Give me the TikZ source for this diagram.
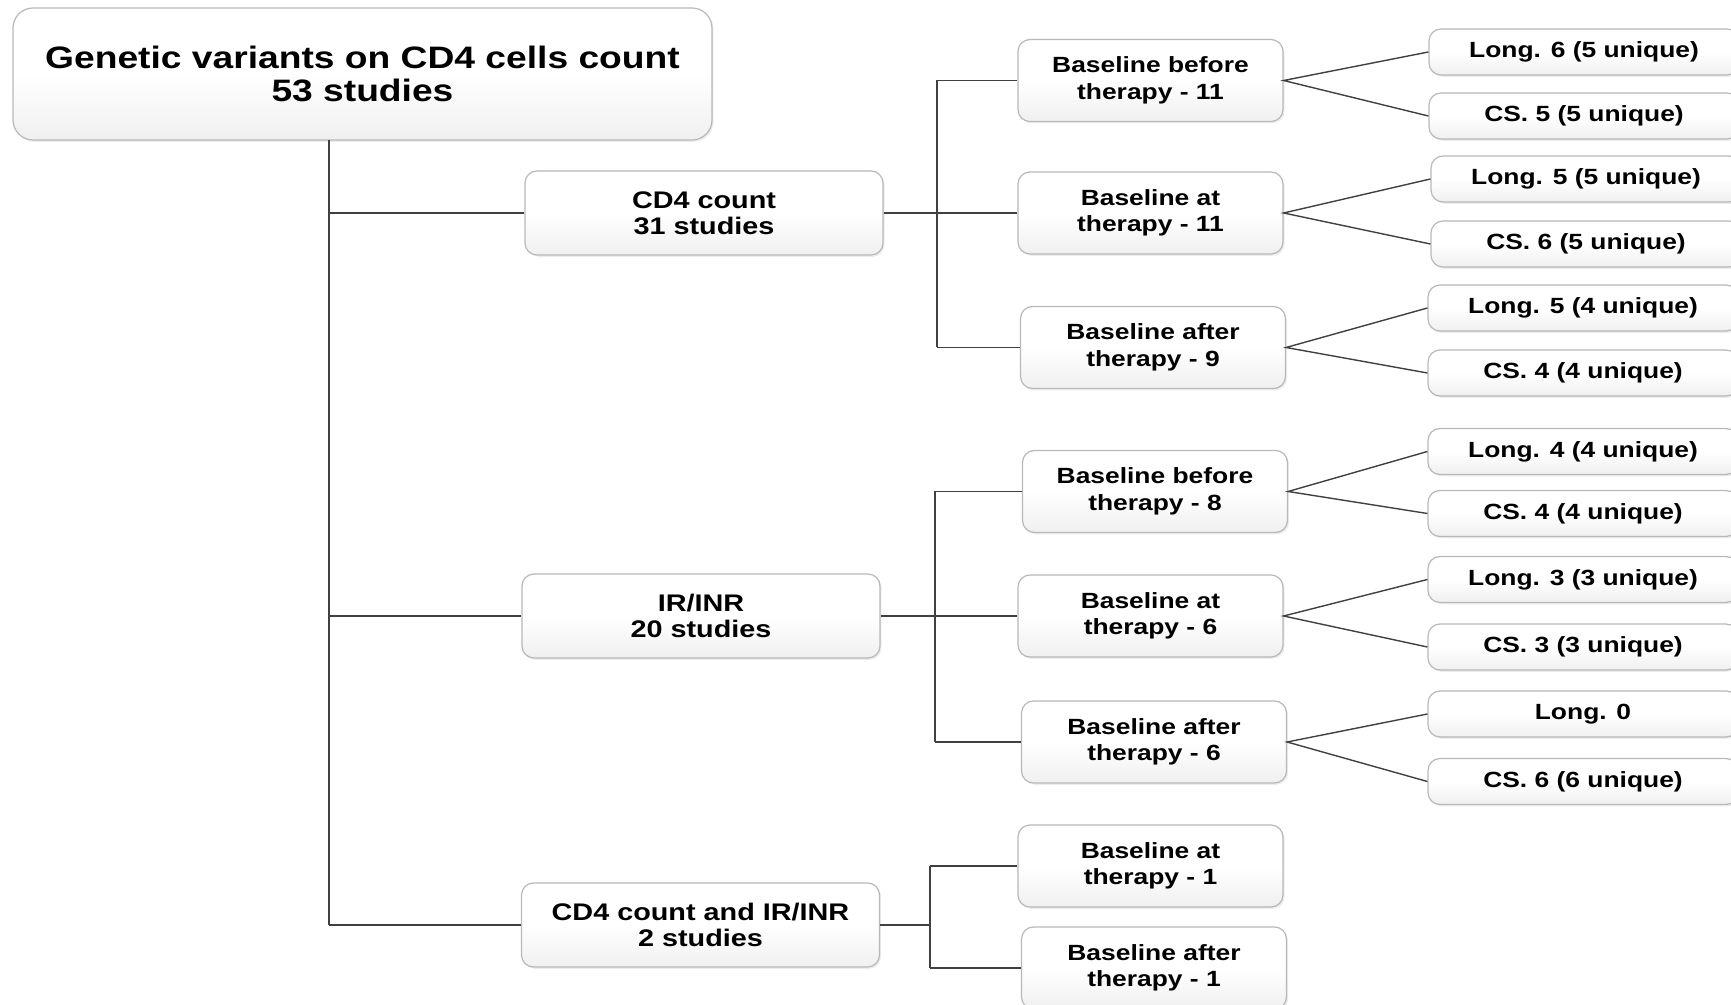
\documentclass[tikz,border=0pt]{standalone}
\usepackage{fontspec}
\newfontfamily\wf{Liberation Sans}[FakeStretch=1.2]
\usetikzlibrary{calc,shadows}
\begin{document}
\begin{tikzpicture}[x=0.5pt,y=-0.5pt,
  box/.style={draw=black!28, line width=0.6pt, rounded corners=6pt,
    top color=white, bottom color=black!6, middle color=white,
    drop shadow={opacity=0.15, shadow xshift=0.8pt, shadow yshift=-0.9pt},
    align=center, inner sep=0pt, text=black},
  rootbox/.style={box, rounded corners=10pt, minimum width=349.5pt, minimum height=66pt,
    font=\wf\bfseries\fontsize{15.5}{16.5}\selectfont},
  lvone/.style={box, minimum width=179pt, minimum height=42pt,
    font=\wf\bfseries\fontsize{12}{13.2}\selectfont},
  lvtwo/.style={box, minimum width=132.5pt, minimum height=41pt,
    font=\wf\bfseries\fontsize{11}{13.2}\selectfont},
  leaf/.style={box, minimum width=155pt, minimum height=23pt,
    font=\wf\bfseries\fontsize{11}{12}\selectfont},
  conn/.style={draw=black!75, line width=0.7pt}
]
\useasboundingbox (0,0) rectangle (1731,1005);

% root
\node[rootbox] (root) at (362.5,74) {Genetic variants on CD4 cells count\\53 studies};

% level one
\node[lvone] (A1) at (704,213) {CD4 count\\31 studies};
\node[lvone] (A2) at (701,616) {IR/INR\\20 studies};
\node[lvone] (A3) at (700.5,925) {CD4 count and IR/INR\\2 studies};

% level two
\node[lvtwo] (B1) at (1150.5,80.5) {Baseline before\\therapy - 11};
\node[lvtwo] (B2) at (1150.5,213) {Baseline at\\therapy - 11};
\node[lvtwo] (B3) at (1153,347.5) {Baseline after\\therapy - 9};
\node[lvtwo] (B4) at (1155,491.5) {Baseline before\\therapy - 8};
\node[lvtwo] (B5) at (1150.5,616) {Baseline at\\therapy - 6};
\node[lvtwo] (B6) at (1154,742) {Baseline after\\therapy - 6};
\node[lvtwo] (B7) at (1150.5,866) {Baseline at\\therapy - 1};
\node[lvtwo] (B8) at (1154,968) {Baseline after\\therapy - 1};

% leaves
\node[leaf] (L1) at (1584,52) {Long. 6 (5 unique)};
\node[leaf] (L2) at (1584,116) {CS. 5 (5 unique)};
\node[leaf] (L3) at (1586,179) {Long. 5 (5 unique)};
\node[leaf] (L4) at (1586,244) {CS. 6 (5 unique)};
\node[leaf] (L5) at (1583,308) {Long. 5 (4 unique)};
\node[leaf] (L6) at (1583,373) {CS. 4 (4 unique)};
\node[leaf] (L7) at (1583,451.5) {Long. 4 (4 unique)};
\node[leaf] (L8) at (1583,513.5) {CS. 4 (4 unique)};
\node[leaf] (L9) at (1583,579.5) {Long. 3 (3 unique)};
\node[leaf] (L10) at (1583,647) {CS. 3 (3 unique)};
\node[leaf] (L11) at (1583,714) {Long. 0};
\node[leaf] (L12) at (1583,781.5) {CS. 6 (6 unique)};

% trunk
\coordinate (tk) at (329,140);
\draw[conn] (tk) -- (tk |- A3.west);
\draw[conn] (tk |- A1.west) -- (A1.west);
\draw[conn] (tk |- A2.west) -- (A2.west);
\draw[conn] (tk |- A3.west) -- (A3.west);

% group 1
\coordinate (g1) at (937,0);
\draw[conn] (A1.east) -- (B2.west);
\draw[conn] (g1 |- B1.west) -- (g1 |- B3.west);
\draw[conn] (g1 |- B1.west) -- (B1.west);
\draw[conn] (g1 |- B3.west) -- (B3.west);

% group 2
\coordinate (g2) at (935,0);
\draw[conn] (A2.east) -- (B5.west);
\draw[conn] (g2 |- B4.west) -- (g2 |- B6.west);
\draw[conn] (g2 |- B4.west) -- (B4.west);
\draw[conn] (g2 |- B6.west) -- (B6.west);

% group 3
\coordinate (g3) at (930,0);
\draw[conn] (A3.east) -- (g3 |- A3.east);
\draw[conn] (g3 |- B7.west) -- (g3 |- B8.west);
\draw[conn] (g3 |- B7.west) -- (B7.west);
\draw[conn] (g3 |- B8.west) -- (B8.west);

% fans
\draw[conn] (L1.west) -- (B1.east) -- (L2.west);
\draw[conn] (L3.west) -- (B2.east) -- (L4.west);
\draw[conn] (L5.west) -- (B3.east) -- (L6.west);
\draw[conn] (L7.west) -- (B4.east) -- (L8.west);
\draw[conn] (L9.west) -- (B5.east) -- (L10.west);
\draw[conn] (L11.west) -- (B6.east) -- (L12.west);
\end{tikzpicture}
\end{document}
